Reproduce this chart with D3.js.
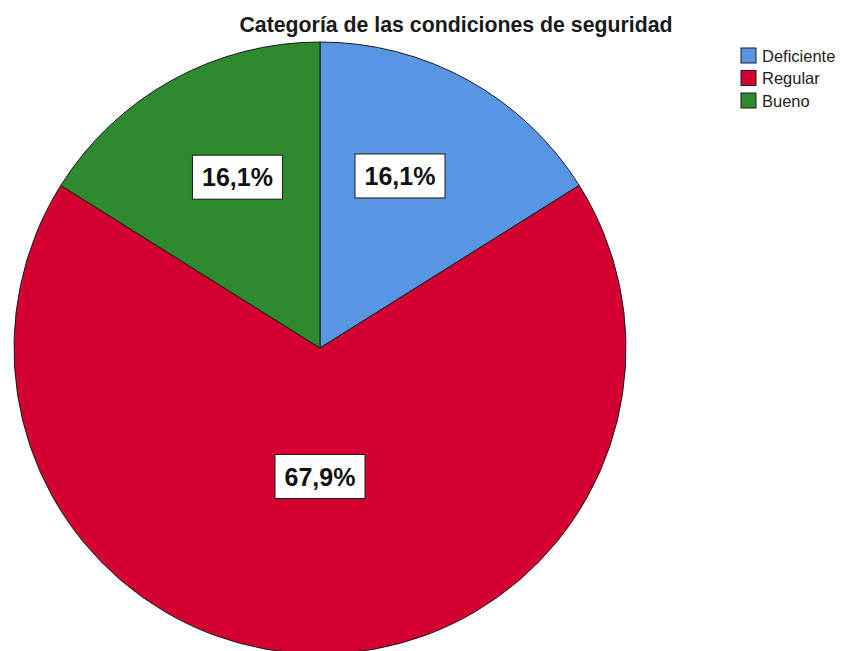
<!DOCTYPE html>
<html>
<head>
<meta charset="utf-8">
<script src="https://cdn.jsdelivr.net/npm/d3@7"></script>
<style>
  body { margin: 0; background: #fff; }
  text { font-family: "Liberation Sans", Arial, sans-serif; }
</style>
</head>
<body>
<div id="chart"></div>
<script>
// data
var categories = ["Deficiente", "Regular", "Bueno"];
var percents = [16.1, 67.9, 16.1];
var labels = ["16,1%", "67,9%", "16,1%"];
var colors = ["#5896e3", "#d30031", "#2e8a2e"];

var width = 842, height = 651;
var cx = 320, cy = 348, radius = 306;

var svg = d3.select("#chart").append("svg")
  .attr("width", width)
  .attr("height", height);

svg.append("text")
  .attr("x", 456)
  .attr("y", 32)
  .attr("text-anchor", "middle")
  .style("font-size", "21.3px")
  .style("font-weight", "bold")
  .attr("fill", "#1a1a1a")
  .text("Categoría de las condiciones de seguridad");

var data = categories.map(function(c, i) {
  return { name: c, value: percents[i], label: labels[i], color: colors[i] };
});

var pie = d3.pie().sort(null).value(function(d) { return d.value; });
var arcs = pie(data);

var arc = d3.arc().innerRadius(0).outerRadius(radius);

var g = svg.append("g").attr("transform", "translate(" + cx + "," + cy + ")");

g.selectAll("path.slice")
  .data(arcs)
  .enter()
  .append("path")
  .attr("class", "slice")
  .attr("d", arc)
  .attr("fill", function(d) { return d.data.color; })
  .attr("stroke", "#1a1a1a")
  .attr("stroke-width", 1);

// label arcs: small slices sit further out than the big one
function labelPos(d) {
  var r = d.data.value > 50 ? radius * 0.42 : radius * 0.62;
  var mid = (d.startAngle + d.endAngle) / 2;
  // small slices: nudge toward the vertical split line
  if (d.data.value < 50) mid = mid + (mid < Math.PI ? -0.07 : 0.055);
  return [Math.sin(mid) * r, -Math.cos(mid) * r];
}

var lab = g.selectAll("g.lab")
  .data(arcs)
  .enter()
  .append("g")
  .attr("class", "lab")
  .attr("transform", function(d) { return "translate(" + labelPos(d) + ")"; });

lab.append("rect")
  .attr("x", -45)
  .attr("y", -22)
  .attr("width", 90)
  .attr("height", 44)
  .attr("fill", "#fff")
  .attr("stroke", "#1a1a1a")
  .attr("stroke-width", 1);

lab.append("text")
  .attr("text-anchor", "middle")
  .attr("dy", "0.36em")
  .style("font-size", "25px")
  .style("font-weight", "bold")
  .attr("fill", "#111")
  .text(function(d) { return d.data.label; });

// legend
var legend = svg.append("g").attr("transform", "translate(741,48)");

var item = legend.selectAll("g")
  .data(data)
  .enter()
  .append("g")
  .attr("transform", function(d, i) { return "translate(0," + (i * 22.5) + ")"; });

item.append("rect")
  .attr("width", 15)
  .attr("height", 15)
  .attr("fill", function(d) { return d.color; })
  .attr("stroke", "#1a1a1a")
  .attr("stroke-width", 1);

item.append("text")
  .attr("x", 21)
  .attr("y", 8)
  .attr("dy", "0.36em")
  .style("font-size", "16.5px")
  .attr("fill", "#222")
  .text(function(d) { return d.name; });
</script>
</body>
</html>
